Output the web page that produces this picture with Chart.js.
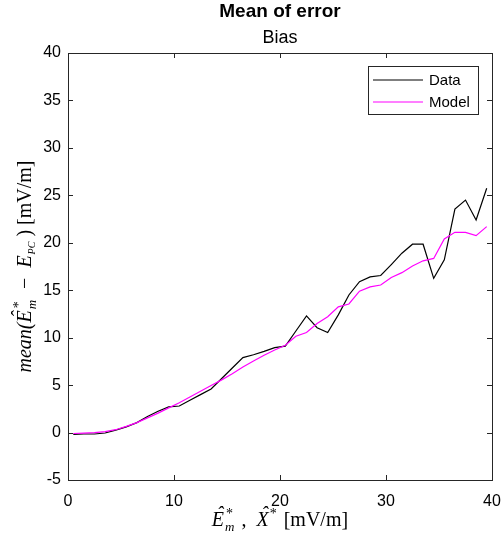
<!DOCTYPE html>
<html>
<head>
<meta charset="utf-8">
<script src="https://cdn.jsdelivr.net/npm/chart.js@4.4.0/dist/chart.umd.min.js"></script>
<style>
  html, body { margin: 0; padding: 0; background: #fff; }
  #wrap { width: 502px; height: 544px; }
</style>
</head>
<body>
<div id="wrap"><canvas id="errChart" width="502" height="544"></canvas></div>
<script>
// bin centres along the x axis [mV/m]
const binCenters = [0.5, 1.5, 2.5, 3.5, 4.5, 5.5, 6.5, 7.5, 8.5, 9.5,
  10.5, 11.5, 12.5, 13.5, 14.5, 15.5, 16.5, 17.5, 18.5, 19.5,
  20.5, 21.5, 22.5, 23.5, 24.5, 25.5, 26.5, 27.5, 28.5, 29.5,
  30.5, 31.5, 32.5, 33.5, 34.5, 35.5, 36.5, 37.5, 38.5, 39.5];

// mean error, measured
const dataMean = [-0.2, -0.15, -0.15, -0.05, 0.25, 0.6, 1.05, 1.7, 2.25, 2.7,
  2.8, 3.4, 4.0, 4.6, 5.7, 6.8, 7.9, 8.2, 8.55, 8.95,
  9.1, 10.7, 12.3, 11.05, 10.55, 12.4, 14.5, 15.9, 16.4, 16.55,
  17.7, 18.9, 19.85, 19.85, 16.25, 18.2, 23.55, 24.5, 22.4, 25.75];

// mean error, model
const modelMean = [-0.1, -0.05, 0.0, 0.1, 0.3, 0.65, 1.05, 1.55, 2.05, 2.6,
  3.15, 3.75, 4.35, 4.95, 5.55, 6.2, 6.9, 7.55, 8.15, 8.7,
  9.2, 10.15, 10.55, 11.5, 12.2, 13.25, 13.55, 14.9, 15.35, 15.55,
  16.35, 16.85, 17.55, 18.1, 18.35, 20.4, 21.1, 21.1, 20.75, 21.7];

const xTicks = [0, 10, 20, 30, 40];
const yTicks = [-5, 0, 5, 10, 15, 20, 25, 30, 35, 40];

const axisColor = "#262626";
const sans = "'Liberation Sans', Arial, sans-serif";
const serif = "'Liberation Serif', 'Times New Roman', serif";

const toPoints = (ys) => binCenters.map((x, i) => ({ x: x, y: ys[i] }));

// --- draw a run of math-ish text pieces, centred on (cx, cy) ---
function drawRuns(ctx, runs, cx, cy) {
  let total = 0;
  runs.forEach(r => {
    ctx.font = r.font;
    r.w = r.noAdvance ? 0 : ctx.measureText(r.t).width + (r.gap || 0);
    total += r.w;
  });
  let x = cx - total / 2;
  ctx.textBaseline = "alphabetic";
  ctx.textAlign = "left";
  runs.forEach(r => {
    ctx.font = r.font;
    ctx.fillText(r.t, x + (r.dx || 0), cy + (r.dy || 0));
    if (r.hat) {
      const w = ctx.measureText(r.t).width;
      ctx.save();
      ctx.textAlign = "center";
      ctx.fillText("\u02C6", x + w / 2 + 2, cy - 5);
      ctx.restore();
    }
    x += r.w;
  });
}

const boxPlugin = {
  id: "matlabBox",
  afterDraw(chart) {
    const ctx = chart.ctx;
    const a = chart.chartArea;
    const xs = chart.scales.x, ys = chart.scales.y;
    ctx.save();

    // axes box
    ctx.strokeStyle = axisColor;
    ctx.lineWidth = 1;
    ctx.strokeRect(Math.round(a.left) + 0.5, Math.round(a.top) + 0.5,
      Math.round(a.right - a.left), Math.round(a.bottom - a.top));

    // inward ticks on all four sides
    const tl = 5;
    ctx.beginPath();
    xTicks.forEach(v => {
      const px = Math.round(xs.getPixelForValue(v)) + 0.5;
      ctx.moveTo(px, a.bottom); ctx.lineTo(px, a.bottom - tl);
      ctx.moveTo(px, a.top); ctx.lineTo(px, a.top + tl);
    });
    yTicks.forEach(v => {
      const py = Math.round(ys.getPixelForValue(v)) + 0.5;
      ctx.moveTo(a.left, py); ctx.lineTo(a.left + tl, py);
      ctx.moveTo(a.right, py); ctx.lineTo(a.right - tl, py);
    });
    ctx.stroke();

    // titles
    ctx.fillStyle = "#000";
    ctx.textAlign = "center";
    ctx.textBaseline = "middle";
    const cx = (a.left + a.right) / 2;
    ctx.font = "bold 19px " + sans;
    ctx.fillText("Mean of error", cx, 12);
    ctx.font = "18px " + sans;
    ctx.fillText("Bias", cx, 38);

    // legend
    const lx = 368.5, ly = 66.5, lw = 110, lh = 48;
    ctx.fillStyle = "#fff";
    ctx.fillRect(lx, ly, lw, lh);
    ctx.strokeStyle = axisColor;
    ctx.lineWidth = 1;
    ctx.strokeRect(lx, ly, lw, lh);
    const items = [["Data", "#000000", 80], ["Model", "#ff00ff", 102]];
    items.forEach(([label, color, y]) => {
      ctx.strokeStyle = color;
      ctx.lineWidth = 1.2;
      ctx.beginPath();
      ctx.moveTo(373, y); ctx.lineTo(423, y);
      ctx.stroke();
      ctx.fillStyle = "#000";
      ctx.font = "15px " + sans;
      ctx.textAlign = "left";
      ctx.textBaseline = "middle";
      ctx.fillText(label, 429, y + 1);
    });

    // x axis label
    const it = "italic 20px " + serif, rm = "20px " + serif;
    const sm = "italic 13px " + serif, sup = "14px " + serif;
    ctx.fillStyle = "#000";
    drawRuns(ctx, [
      { t: "E", font: it, hat: true, gap: 1 },
      { t: "*", font: sup, dy: -8, dx: 1, noAdvance: true },
      { t: "m", font: sm, dy: 5, gap: 2 },
      { t: " ,  ", font: rm },
      { t: "X", font: it, hat: true, gap: 1 },
      { t: "*", font: sup, dy: -8, gap: 2 },
      { t: " [mV/m]", font: rm }
    ], cx, 526);

    // y axis label (rotated)
    ctx.save();
    ctx.translate(31, (a.top + a.bottom) / 2);
    ctx.rotate(-Math.PI / 2);
    drawRuns(ctx, [
      { t: "mean(", font: it },
      { t: "E", font: it, hat: true, gap: 1 },
      { t: "*", font: sup, dy: -8, dx: 1, noAdvance: true },
      { t: "m", font: sm, dy: 5, gap: 1 },
      { t: "  \u2212  ", font: rm },
      { t: "E", font: it, gap: 1 },
      { t: "PC", font: "italic 10px " + serif, dy: 4 },
      { t: " ) [mV/m]", font: rm }
    ], 0, 0);
    ctx.restore();

    ctx.restore();
  }
};

const chart = new Chart(document.getElementById("errChart").getContext("2d"), {
  type: "line",
  data: {
    datasets: [
      {
        label: "Data",
        data: toPoints(dataMean),
        borderColor: "#000000",
        borderWidth: 1.2,
        pointRadius: 0,
        fill: false,
        tension: 0,
        order: 1
      },
      {
        label: "Model",
        data: toPoints(modelMean),
        borderColor: "#ff00ff",
        borderWidth: 1.2,
        pointRadius: 0,
        fill: false,
        tension: 0,
        order: 0
      }
    ]
  },
  options: {
    responsive: false,
    animation: false,
    devicePixelRatio: 1,
    layout: { padding: { top: 53, right: 10, left: 0, bottom: 0 } },
    plugins: {
      legend: { display: false },
      title: { display: false },
      tooltip: { enabled: false }
    },
    scales: {
      x: {
        type: "linear",
        min: 0,
        max: 40,
        afterFit: (s) => { s.height = 64; s.paddingLeft = 0; s.paddingRight = 0; },
        afterBuildTicks: (s) => { s.ticks = xTicks.map(v => ({ value: v })); },
        grid: { display: false, drawTicks: false },
        border: { display: false },
        ticks: { color: "#000", font: { family: sans, size: 16 }, padding: 12, maxRotation: 0 }
      },
      y: {
        type: "linear",
        min: -5,
        max: 40,
        afterFit: (s) => { s.width = 68; s.paddingTop = 0; s.paddingBottom = 0; },
        afterBuildTicks: (s) => { s.ticks = yTicks.map(v => ({ value: v })); },
        grid: { display: false, drawTicks: false },
        border: { display: false },
        ticks: { color: "#000", font: { family: sans, size: 16 }, padding: 7 }
      }
    }
  },
  plugins: [boxPlugin]
});
</script>
</body>
</html>
